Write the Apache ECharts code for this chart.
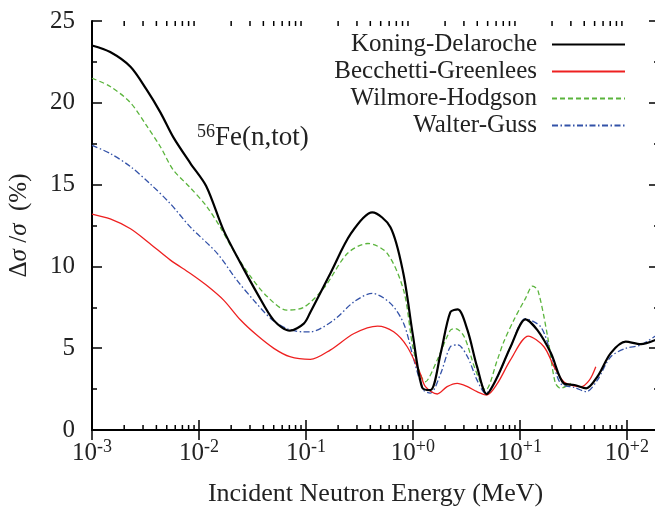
<!DOCTYPE html>
<html><head><meta charset="utf-8">
<script src="https://cdn.jsdelivr.net/npm/echarts@6/dist/echarts.min.js"></script>
<style>html,body{margin:0;padding:0;background:#fff}#c{width:655px;height:508px}</style>
</head><body><div id="c"></div>
<script>
// ---- data (energy in MeV, relative uncertainty in %) ----
const seriesNames = ['Koning-Delaroche', 'Becchetti-Greenlees', 'Wilmore-Hodgson', 'Walter-Guss'];

const kdEnergy = [0.001, 0.00148, 0.00229, 0.00324, 0.00437, 0.00575, 0.00832, 0.0117, 0.0170, 0.0245, 0.0347, 0.0501, 0.0708, 0.0955, 0.110, 0.170, 0.263, 0.417, 0.617, 0.813, 1.0, 1.22, 1.46, 1.82, 2.24, 2.63, 3.24, 3.98, 4.90, 6.17, 8.20, 11.3, 14.6, 19.5, 25.7, 32.4, 41.7, 53.1, 70.8, 97.7, 135, 200];
const kdValues = [23.5, 23.1, 22.2, 20.8, 19.4, 17.9, 16.3, 14.9, 12.2, 10.2, 8.4, 6.7, 6.07, 6.5, 7.2, 9.6, 12.0, 13.3, 12.4, 9.6, 5.8, 2.6, 2.44, 4.7, 7.2, 7.37, 6.1, 3.87, 2.2, 3.26, 5.09, 6.76, 6.1, 4.7, 2.85, 2.75, 2.55, 3.26, 4.7, 5.4, 5.25, 5.6];

const bgEnergy = [0.001, 0.00148, 0.00229, 0.00347, 0.00537, 0.00832, 0.0117, 0.0170, 0.0245, 0.0347, 0.0501, 0.0708, 0.110, 0.170, 0.282, 0.468, 0.661, 0.885, 1.17, 1.31, 1.69, 2.09, 2.60, 3.24, 3.98, 4.90, 6.17, 8.20, 12.0, 16.8, 20.9, 25.7, 32.1, 37.2, 44.7, 51.3];
const bgValues = [13.2, 12.9, 12.3, 11.4, 10.4, 9.57, 8.86, 7.94, 6.72, 5.8, 4.99, 4.48, 4.32, 4.9, 5.9, 6.35, 6.0, 5.09, 3.46, 2.65, 2.2, 2.65, 2.85, 2.65, 2.34, 2.14, 2.85, 4.3, 5.74, 5.09, 3.87, 2.95, 2.69, 2.65, 3.05, 3.87];

const whEnergy = [0.001, 0.00148, 0.00229, 0.00324, 0.00437, 0.00575, 0.00832, 0.0117, 0.0158, 0.0209, 0.0302, 0.0437, 0.0661, 0.0955, 0.148, 0.245, 0.380, 0.575, 0.822, 1.02, 1.31, 1.69, 2.24, 2.51, 3.02, 3.85, 4.79, 6.17, 7.08, 8.91, 11.2, 13.2, 14.8, 18.2, 21.4, 24.0, 29.9];
const whValues = [21.5, 21.0, 20.0, 18.6, 17.3, 15.9, 14.8, 13.7, 12.4, 11.0, 9.4, 8.14, 7.33, 7.5, 8.7, 10.8, 11.4, 10.8, 8.5, 4.8, 2.95, 4.28, 6.1, 6.2, 5.7, 3.67, 2.44, 4.3, 5.4, 6.8, 8.0, 8.8, 8.5, 5.7, 2.9, 2.55, 2.85];

const wgEnergy = [0.001, 0.00148, 0.00229, 0.00347, 0.00537, 0.00832, 0.0148, 0.0226, 0.0324, 0.0468, 0.0661, 0.0955, 0.110, 0.182, 0.282, 0.417, 0.617, 0.822, 1.02, 1.26, 1.46, 1.82, 2.24, 2.63, 3.24, 3.98, 4.79, 6.17, 8.20, 11.3, 15.7, 19.5, 24.0, 32.4, 41.7, 53.1, 70.8, 97.7, 135, 200];
const wgValues = [17.4, 16.9, 16.1, 15.07, 13.85, 12.4, 10.8, 9.16, 7.94, 6.82, 6.2, 6.0, 6.0, 6.72, 7.84, 8.35, 7.74, 6.5, 4.3, 2.44, 2.26, 3.46, 5.09, 5.2, 4.48, 3.05, 2.24, 3.26, 5.09, 6.8, 6.3, 4.68, 2.85, 2.6, 2.34, 3.05, 4.48, 4.99, 5.2, 5.9];

const xMin = 0.001, xMax = 200;
const yMin = 0, yMax = 25, yStep = 5;
const annotation = '56Fe(n,tot)';

// ---- chart ----
const FONT = "Liberation Serif";
const TXT = '#222';
const chart = echarts.init(document.getElementById('c'), null, {renderer: 'canvas'});

function pairs(xs, ys) { return xs.map((x, i) => [x, ys[i]]); }
function expLabel(v) {
  const e = Math.round(Math.log10(v));
  const s = e >= 0 ? '+' + e : String(e);
  return '{b|10}{s|' + s + '}';
}
const tickStyle = {color: '#000', width: 1.5};
const axisLine = {show: true, lineStyle: {color: '#000', width: 2}};

const option = {
  animation: false,
  backgroundColor: '#fff',
  textStyle: {fontFamily: FONT, fontSize: 25, color: TXT},
  grid: {left: 92, right: -4, top: 21, bottom: 78, outerBoundsMode: 'none', containLabel: false},
  xAxis: [{
    type: 'log', logBase: 10, min: xMin, max: xMax, interval: 1,
    position: 'bottom',
    axisLine: axisLine,
    axisTick: {show: true, inside: true, length: 10, lineStyle: tickStyle},
    splitLine: {show: false},
    axisLabel: {
      margin: 8, showMaxLabel: false, formatter: expLabel, fontFamily: FONT,
      rich: {
        b: {fontFamily: FONT, fontSize: 25, color: TXT, lineHeight: 30, verticalAlign: 'middle'},
        s: {fontFamily: FONT, fontSize: 18, color: TXT, lineHeight: 18, verticalAlign: 'top'}
      }
    },
    name: 'Incident Neutron Energy (MeV)', nameLocation: 'middle', nameGap: 51,
    nameTextStyle: {fontFamily: FONT, fontSize: 26, color: TXT}
  }, {
    type: 'log', logBase: 10, min: xMin, max: xMax, interval: 1,
    position: 'top',
    axisLine: axisLine,
    axisTick: {show: true, inside: true, length: 10, lineStyle: tickStyle},
    axisLabel: {show: false}, splitLine: {show: false}
  }],
  yAxis: [{
    type: 'value', min: yMin, max: yMax, interval: yStep, position: 'left',
    axisLine: axisLine,
    axisTick: {show: true, inside: true, length: 10, lineStyle: tickStyle},
    minorTick: {show: true, splitNumber: 2, length: 5, lineStyle: tickStyle},
    splitLine: {show: false},
    axisLabel: {margin: 17, fontFamily: FONT, fontSize: 25, color: TXT},
    name: '{d|Δ}{i|σ}{d| /}{i|σ}{d|  (%)}', nameLocation: 'middle', nameRotate: 90, nameGap: 60,
    nameTextStyle: {
      fontFamily: FONT, fontSize: 25, color: TXT,
      rich: {
        d: {fontFamily: FONT, fontSize: 25, color: TXT},
        i: {fontFamily: FONT, fontSize: 25, color: TXT, fontStyle: 'italic'}
      }
    }
  }, {
    type: 'value', min: yMin, max: yMax, interval: yStep, position: 'right',
    axisLine: axisLine,
    axisTick: {show: true, inside: true, length: 10, lineStyle: tickStyle},
    minorTick: {show: true, splitNumber: 2, length: 5, lineStyle: tickStyle},
    splitLine: {show: false}, axisLabel: {show: false}
  }],
  legend: {
    orient: 'vertical', right: 24, top: 27, align: 'right',
    itemWidth: 73, itemHeight: 12, itemGap: 2,
    data: seriesNames,
    itemStyle: {opacity: 0},
    textStyle: {fontFamily: FONT, fontSize: 25, color: TXT, padding: [0, 10, 0, 0], lineHeight: 25}
  },
  series: [
    {name: seriesNames[0], type: 'line', data: pairs(kdEnergy, kdValues), symbol: 'none', smooth: 0.3, z: 5,
     lineStyle: {color: '#000', width: 2.2}, itemStyle: {color: '#000'}},
    {name: seriesNames[1], type: 'line', data: pairs(bgEnergy, bgValues), symbol: 'none', smooth: 0.3, z: 4,
     lineStyle: {color: '#ee2020', width: 1.3}, itemStyle: {color: '#ee2020'}},
    {name: seriesNames[2], type: 'line', data: pairs(whEnergy, whValues), symbol: 'none', smooth: 0.3, z: 3,
     lineStyle: {color: '#5ab43c', width: 1.3, type: [5, 3]}, itemStyle: {color: '#5ab43c'}},
    {name: seriesNames[3], type: 'line', data: pairs(wgEnergy, wgValues), symbol: 'none', smooth: 0.3, z: 3,
     lineStyle: {color: '#3352a8', width: 1.3, type: [6, 2.5, 1.5, 2.5]}, itemStyle: {color: '#3352a8'}}
  ]
};
chart.setOption(option);

// minor ticks of the logarithmic x axes (2..9 x 10^n), positioned through the axis scale
const graphics = [];
const yBottom = chart.convertToPixel({yAxisIndex: 0}, yMin);
const yTop = chart.convertToPixel({yAxisIndex: 0}, yMax);
for (let e = Math.round(Math.log10(xMin)); e <= Math.ceil(Math.log10(xMax)); e++) {
  for (let m = 2; m <= 9; m++) {
    const v = m * Math.pow(10, e);
    if (v <= xMin || v >= xMax) continue;
    const px = chart.convertToPixel({xAxisIndex: 0}, v);
    graphics.push({type: 'line', shape: {x1: px, y1: yBottom, x2: px, y2: yBottom - 5}, style: {stroke: '#000', lineWidth: 1.5}, silent: true});
    graphics.push({type: 'line', shape: {x1: px, y1: yTop, x2: px, y2: yTop + 5}, style: {stroke: '#000', lineWidth: 1.5}, silent: true});
  }
}
graphics.push({
  type: 'text', left: 197, top: 123, silent: true,
  style: {
    text: '{s|' + annotation.slice(0, 2) + '}{b|' + annotation.slice(2) + '}',
    rich: {
      b: {fontFamily: FONT, fontSize: 27, fill: TXT, lineHeight: 30, verticalAlign: 'middle'},
      s: {fontFamily: FONT, fontSize: 18, fill: TXT, lineHeight: 18, verticalAlign: 'top'}
    }
  }
});
chart.setOption({graphic: graphics});
</script>
</body></html>
